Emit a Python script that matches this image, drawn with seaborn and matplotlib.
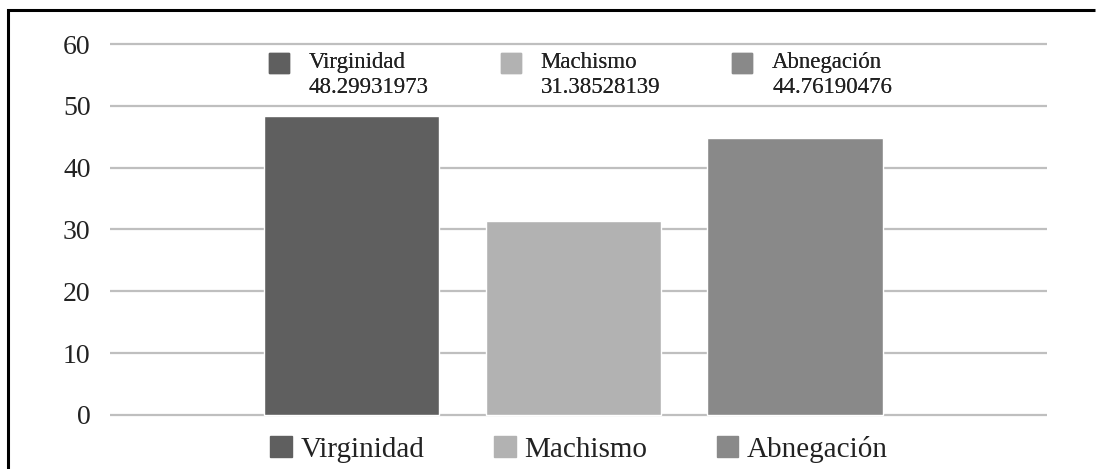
import matplotlib
matplotlib.use("Agg")
import matplotlib.pyplot as plt
import matplotlib.patches as mpatches
from matplotlib.lines import Line2D
from matplotlib.legend_handler import HandlerPatch
import seaborn as sns

# data
categories = ["Virginidad", "Machismo", "Abnegación"]
values = [48.29931973, 31.38528139, 44.76190476]
colors = ["#5f5f5f", "#b2b2b2", "#898989"]
yticks = [0, 10, 20, 30, 40, 50, 60]

sns.set_style("white")
plt.rcParams["font.family"] = ["Liberation Serif", "DejaVu Serif"]

W, H = 1096, 469
fig = plt.figure(figsize=(W / 100, H / 100), dpi=100)
ax = fig.add_axes([110 / W, 1 - 416.5 / H, 937 / W, 374 / H])

sns.barplot(x=categories, y=values, hue=categories, palette=colors,
            width=0.79, saturation=1, legend=False, ax=ax, zorder=3)

ax.set_xlim(-1.089, 3.136)
ax.set_ylim(-0.25, 60.25)
ax.set_yticks(yticks)
ax.set_xticks([])
ax.set_xlabel("")
ax.set_ylabel("")
for s in ax.spines.values():
    s.set_visible(False)
ax.yaxis.grid(True, color="#bfbfbf", linewidth=1.6, zorder=0)
ax.set_axisbelow(True)
ax.tick_params(axis="y", length=0, pad=14, labelsize=20, labelcolor="#222222")

# top legend: name and value, square next to the first line
def top_square(legend, orig_handle, xdescent, ydescent, width, height, fontsize):
    return mpatches.Rectangle((-xdescent, fontsize * 0.43), width, width)

handles = [mpatches.Patch(color=c) for c in colors]
top_labels = [f"{c}\n{v:.8f}" for c, v in zip(categories, values)]
leg_top = ax.legend(handles, top_labels, loc="upper center",
                    bbox_to_anchor=(0.502, 0.974), ncol=3, frameon=False,
                    fontsize=16.5, handlelength=0.87, handleheight=0.87,
                    handletextpad=0.87, columnspacing=3.15, borderpad=0,
                    borderaxespad=0, labelcolor="#222222",
                    handler_map={mpatches.Patch: HandlerPatch(patch_func=top_square)})
for t in leg_top.get_texts():
    t.set_linespacing(1.25)
ax.add_artist(leg_top)

# bottom legend
fig.legend([mpatches.Patch(color=c) for c in colors], categories,
           loc="upper center", bbox_to_anchor=(579 / W, 1 - 436 / H),
           ncol=3, frameon=False, fontsize=21, handlelength=0.74,
           handleheight=0.74, handletextpad=0.28, columnspacing=2.4,
           borderpad=0, borderaxespad=0, labelcolor="#222222")

# outer frame: only the left and top edges are inside the picture
fig.add_artist(Line2D([7.5 / W, 7.5 / W, 1 - 1 / W], [0, 1 - 10.5 / H, 1 - 10.5 / H],
                      transform=fig.transFigure, color="black", linewidth=2.2,
                      solid_joinstyle="miter", solid_capstyle="butt"))

fig.savefig("out.png", dpi=100)
